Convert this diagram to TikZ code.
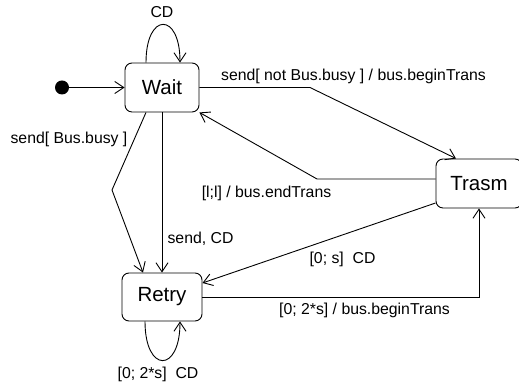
\documentclass[tikz,border=0pt]{standalone}
\usepackage{fontspec}
\setmainfont{Liberation Sans}
\usetikzlibrary{arrows.meta,positioning}

\begin{document}
\begin{tikzpicture}[
    x=1pt, y=1pt,
    state/.style={rectangle, draw, rounded corners=7pt, line width=0.9pt, minimum height=49pt, inner sep=0pt, font=\fontsize{20.5}{24}\selectfont},
    initial/.style={circle, fill=black, minimum size=14pt, inner sep=0pt},
    arrow/.style={-{Straight Barb[length=9pt,width=12pt]}, line width=0.9pt},
    lbl/.style={font=\fontsize{15.8}{18}\selectfont, anchor=base, inner sep=0pt}
]
    \useasboundingbox (0,0) rectangle (519,387);

    \node[initial] (init) at (62,299.5) {};
    \node[state, minimum width=74pt] (wait) at (162,299.5) {Wait};
    \node[state, minimum width=86pt] (trasm) at (479,203.5) {Trasm};
    \node[state, minimum width=80pt, minimum height=48pt] (retry) at (162,90) {Retry};

    \draw[arrow] (init) -- (wait);
    \draw[arrow] ([xshift=-16pt]wait.north) .. controls +(0,50.7) and +(0,50.7) .. ([xshift=18pt]wait.north)
        node[lbl] at (162,369) {CD};
    \draw[arrow] (wait.east) -- (310,299.5) -- ([xshift=-23pt]trasm.north)
        node[lbl] at (353.5,306.3) {send[ not Bus.busy ] / bus.beginTrans};
    \draw[arrow] ([yshift=4.5pt]trasm.west) -- (317,208) -- (wait.south east)
        node[lbl] at (266.5,189) {[l;l] / bus.endTrans};
    \draw[arrow] ([xshift=-16pt]wait.south) -- (112,197) -- ([xshift=-19pt]retry.north)
        node[lbl] at (69,243.7) {send[ Bus.busy ]};
    \draw[arrow] (wait.south) -- (retry.north)
        node[lbl] at (200.5,143.7) {send, CD};
    \draw[arrow] ([yshift=-19.5pt]trasm.west) -- ([yshift=14pt]retry.east)
        node[lbl] at (342.5,123.7) {[0; s]\ \ CD};
    \draw[arrow] (retry.east) -- (479,90) -- (trasm.south)
        node[lbl] at (364.5,72) {[0; 2*s] / bus.beginTrans};
    \draw[arrow] ([xshift=-17pt]retry.south) .. controls +(0,-52) and +(0,-52) .. ([xshift=18pt]retry.south)
        node[lbl] at (158,8) {[0; 2*s]\ \ CD};
\end{tikzpicture}
\end{document}
